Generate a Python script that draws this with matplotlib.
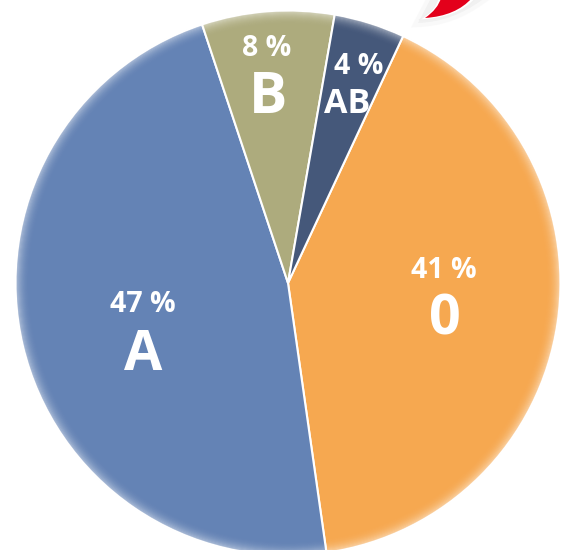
import matplotlib
matplotlib.use("Agg")
import matplotlib.pyplot as plt
from matplotlib.patches import Wedge, PathPatch
from matplotlib.path import Path

plt.rcParams['font.family'] = ['Open Sans', 'DejaVu Sans']

groups = ['0', 'A', 'B', 'AB']
shares = [40.8, 47.15, 7.85, 4.2]
colors = ['#F6A850', '#6483B5', '#ADAB7D', '#45587A']

W, H = 566, 550
fig = plt.figure(figsize=(W / 100, H / 100), dpi=100)
ax = fig.add_axes([0, 0, 1, 1])
cx, cy, R = 288, H - 283, 272.5

wedges, _ = ax.pie(shares, colors=colors, startangle=65, counterclock=False,
                   center=(cx, cy), radius=R,
                   wedgeprops=dict(edgecolor='white', linewidth=1.5))

# soft fading rim
n = 16
for i in range(n):
    ax.add_patch(Wedge((cx, cy), R - i + 1, 0, 360, width=1.0,
                       facecolor='white', edgecolor='none',
                       alpha=0.62 * (1 - i / n) ** 2.4))

# positions of labels in pixels
labels = [
    ('41 %', 444, 270, 20.5), ('0', 445, 320, 40),
    ('47 %', 143, 304, 20.5), ('A', 143, 356, 40),
    ('8 %', 267, 48, 20.5), ('B', 268, 98, 41),
    ('4 %', 359, 66, 20.5), ('AB', 347, 104, 24.5),
]
for t, x, y, s in labels:
    ax.text(x, H - y, t, color='white', fontsize=s, fontweight='bold',
            ha='center', va='center')

# red swoosh at top edge (cropped logo)
def P(pts):
    return [(x, H - y) for x, y in pts]

M, L, C, E = Path.MOVETO, Path.LINETO, Path.CURVE3, Path.CLOSEPOLY
shadow = Path(P([(418, 23), (452, 22), (482, 0), (430, 0), (418, 23), (418, 23)]),
              [M, C, C, L, L, E])
ax.add_patch(PathPatch(shadow, facecolor='#d8d8d8', edgecolor='#eeeeee', lw=6, alpha=0.3))
outline = Path(P([(419, 20), (458, 19), (476, -2), (438, -2), (436, 10), (419, 20), (419, 20)]),
               [M, C, C, L, C, C, E])
ax.add_patch(PathPatch(outline, facecolor='white', edgecolor='#f0f0f0', lw=0.8))
red = Path(P([(425, 18), (456, 16), (472, -2), (441, -2), (438, 9), (425, 18), (425, 18)]),
           [M, C, C, L, C, C, E])
ax.add_patch(PathPatch(red, facecolor='#E3001B', edgecolor='none'))

ax.set_xlim(0, W)
ax.set_ylim(0, H)
ax.set_aspect('auto')
ax.axis('off')
fig.savefig('out.png', dpi=100, facecolor='white')
